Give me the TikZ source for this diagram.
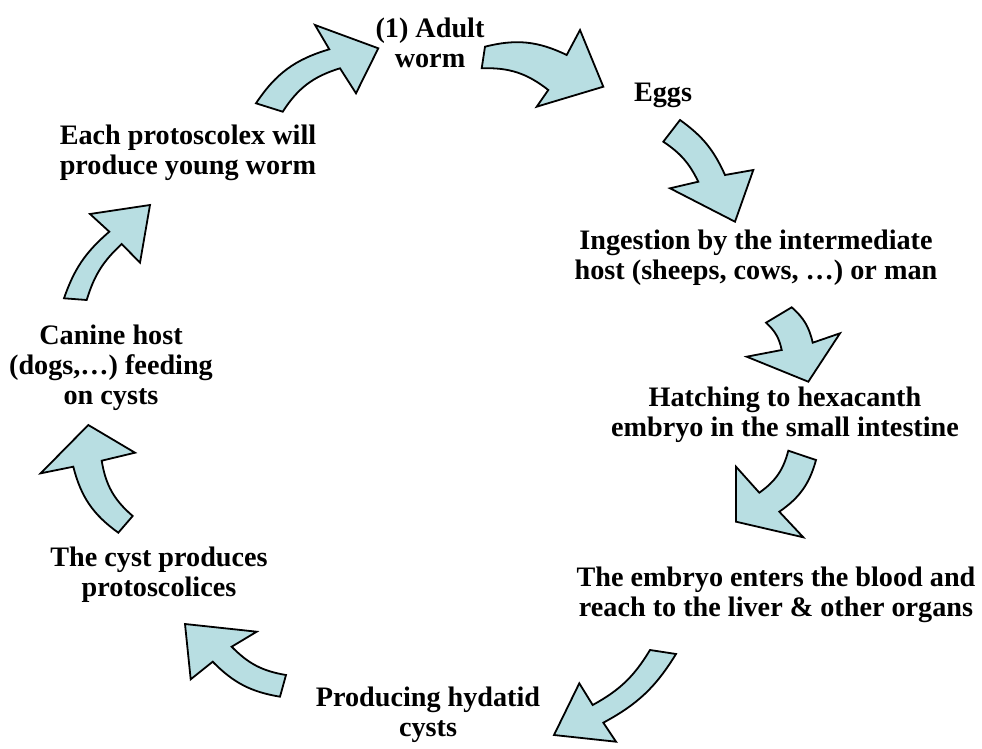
\documentclass[tikz,border=0pt]{standalone}
\usepackage{fontspec}
\setmainfont{Liberation Serif}
\usetikzlibrary{positioning}
\definecolor{arrowfill}{RGB}{184,222,226}

% curved block arrow: outer tail, outer notch, outer barb, tip, inner barb, inner notch, inner tail, bend
\newcommand{\cycarrow}[8]{%
  \draw[cyc] #1 to[bend left=#8] #2 -- #3 -- #4 -- #5 -- #6 to[bend right=#8] #7 -- cycle;}

\begin{document}
\begin{tikzpicture}[x=1pt,y=1pt,
  cyc/.style={fill=arrowfill,draw=black,line width=1.8pt,line join=miter},
  lbl/.style={align=center,inner sep=0pt,font=\bfseries\fontsize{28.2}{30}\selectfont}]
  \useasboundingbox (0,0) rectangle (982,-749);
  % stages of the cycle
  \node[lbl] (adult) at (430,-43) {(1) Adult\\worm};
  \node[lbl] (eggs) at (663,-95) {Eggs};
  \node[lbl] (ingest) at (756,-258) {Ingestion by the intermediate\\host (sheeps, cows, …) or man};
  \node[lbl] (hatch) at (785,-415) {Hatching to hexacanth\\embryo in the small intestine};
  \node[lbl] (blood) at (776,-595) {The embryo enters the blood and\\reach to the liver \& other organs};
  \node[lbl] (hydatid) at (428,-715) {Producing hydatid\\cysts};
  \node[lbl] (cyst) at (159,-575) {The cyst produces\\protoscolices};
  \node[lbl] (canine) at (111,-368) {Canine host\\(dogs,…) feeding\\on cysts};
  \node[lbl] (proto) at (188,-153) {Each protoscolex will\\produce young worm};
  % arrows between the stages
  \cycarrow{(256,-103.3)}{(329.3,-49.3)}{(315,-25)}{(378.3,-48.3)}{(356,-93.3)}{(340,-68.3)}{(282.7,-111.7)}{20}
  \cycarrow{(485,-46.7)}{(566.7,-55)}{(580,-30)}{(603.3,-86.7)}{(536.7,-106.7)}{(548.3,-90)}{(481.7,-68.3)}{20}
  \cycarrow{(680,-120)}{(725,-175)}{(753.3,-170)}{(735,-221.7)}{(670,-188.3)}{(698.3,-181.7)}{(663.3,-141.7)}{15}
  \cycarrow{(791.7,-307.3)}{(812.7,-342.7)}{(840,-333.3)}{(808.3,-381.7)}{(746.7,-356.7)}{(781.7,-350)}{(766,-322.7)}{18}
  \cycarrow{(816,-460)}{(779.3,-511.7)}{(803.3,-537.3)}{(736,-521.7)}{(736,-466.7)}{(759.3,-492.7)}{(788.3,-450.7)}{20}
  \cycarrow{(676,-654)}{(603.3,-722.7)}{(616,-741.7)}{(554,-735)}{(579.3,-683.3)}{(592.7,-705)}{(650,-650)}{15}
  \cycarrow{(280,-696.7)}{(212.7,-661.7)}{(190.7,-679.3)}{(185,-624)}{(256.7,-631.7)}{(231.7,-646.7)}{(286,-675)}{18}
  \cycarrow{(118.3,-532.7)}{(73.3,-466.7)}{(40.7,-473.3)}{(88.3,-425)}{(135,-452.7)}{(101.7,-460.7)}{(132.7,-516)}{20}
  \cycarrow{(64,-298.3)}{(109.3,-231.7)}{(90,-214)}{(150,-205)}{(140,-262.7)}{(121.7,-244)}{(86.7,-300)}{15}
\end{tikzpicture}
\end{document}
